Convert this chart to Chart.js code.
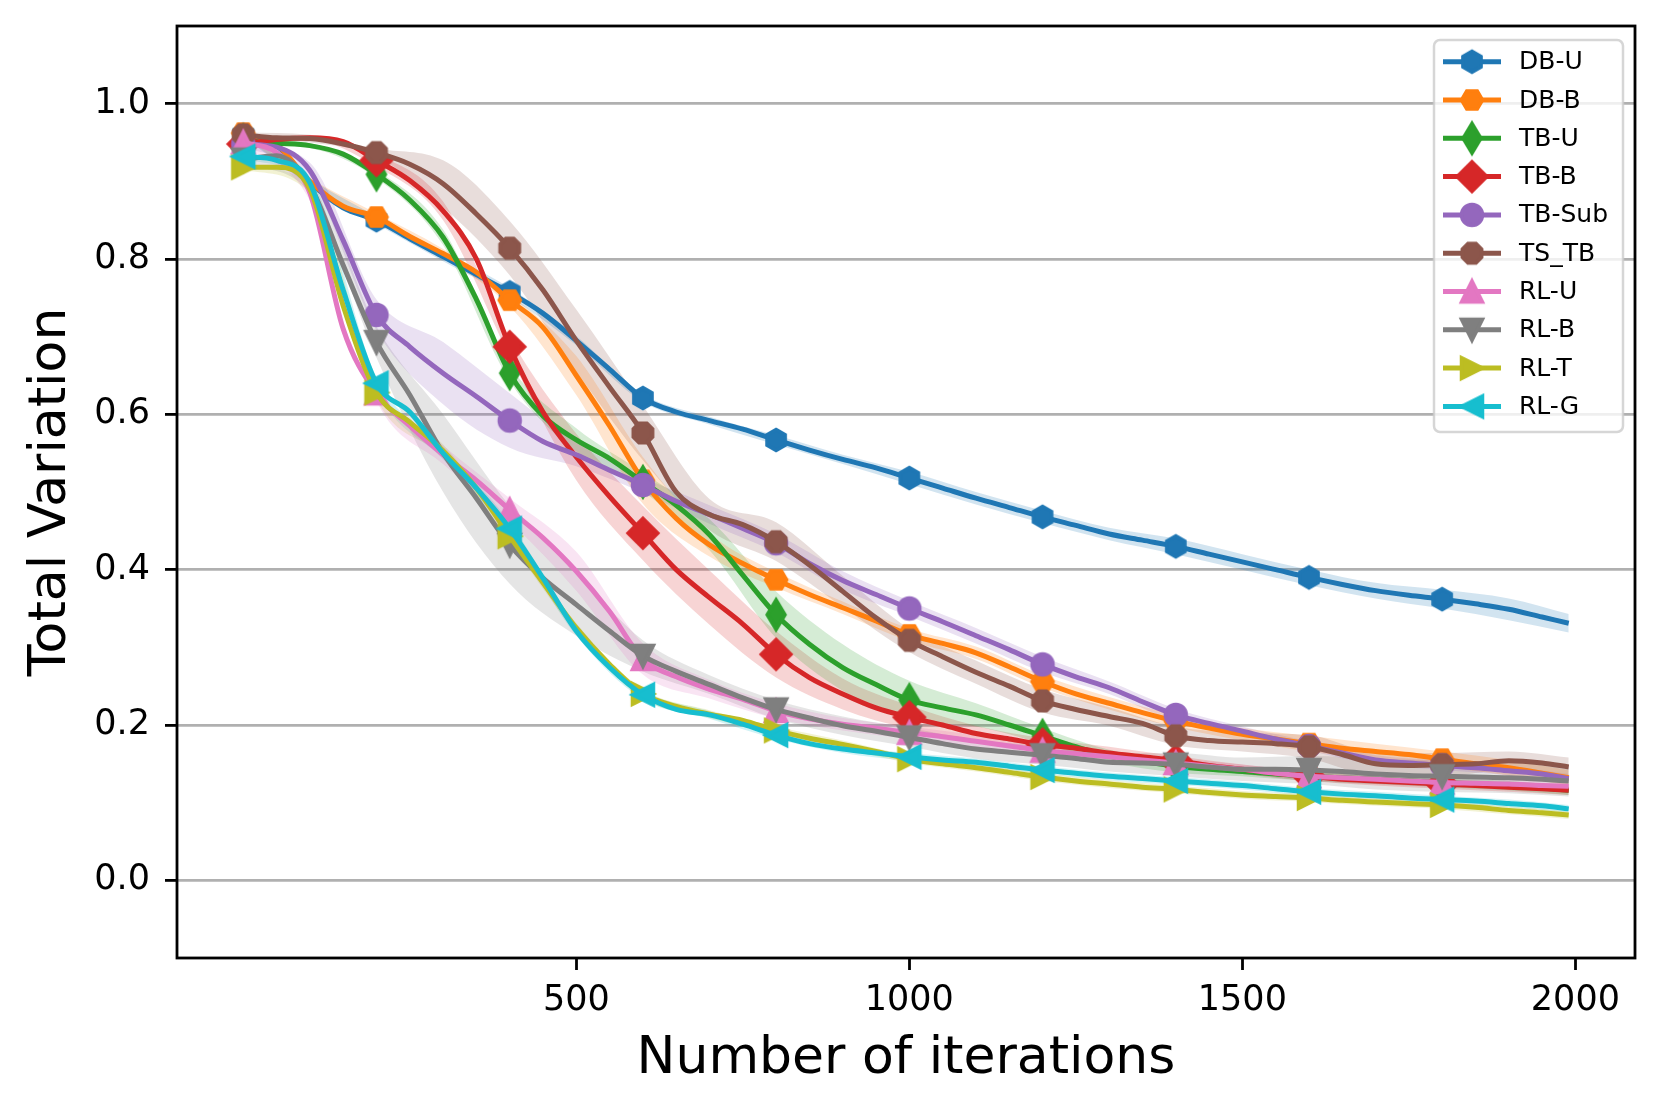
<!DOCTYPE html>
<html>
<head>
<meta charset="utf-8">
<title>Total Variation vs number of iterations</title>
<script src="https://cdn.jsdelivr.net/npm/chart.js@4.4.1/dist/chart.umd.min.js"></script>
<style>
  html, body { margin: 0; padding: 0; background: #fff; }
  #wrap { width: 1662px; height: 1113px; }
</style>
</head>
<body>
<div id="wrap"><canvas id="tvChart" width="1662" height="1113"></canvas></div>
<script>
// iteration grid of the curves
const iters = [0, 50, 100, 150, 200, 250, 300, 350, 400, 450,
  500, 550, 600, 650, 700, 750, 800, 850, 900, 950,
  1000, 1050, 1100, 1150, 1200, 1250, 1300, 1350, 1400, 1450,
  1500, 1550, 1600, 1650, 1700, 1750, 1800, 1850, 1900, 1950, 1990];

// coarser grid for the shaded spread
const bandIters = [0, 100, 200, 300, 400, 500, 600, 700, 800, 900, 1000,
  1100, 1200, 1300, 1400, 1500, 1600, 1700, 1800, 1900, 1990];

const xTicks = [500, 1000, 1500, 2000];
const yTicks = [0.0, 0.2, 0.4, 0.6, 0.8, 1.0];

const seriesNames = ["DB-U", "DB-B", "TB-U", "TB-B", "TB-Sub", "TS_TB", "RL-U", "RL-B", "RL-T", "RL-G"];

const dbU = [0.960, 0.946, 0.899, 0.866, 0.850, 0.826, 0.803, 0.780, 0.757, 0.730,
  0.695, 0.658, 0.621, 0.603, 0.592, 0.581, 0.567, 0.554, 0.542, 0.531,
  0.518, 0.505, 0.492, 0.480, 0.468, 0.457, 0.446, 0.438, 0.430, 0.420,
  0.410, 0.400, 0.390, 0.381, 0.373, 0.367, 0.362, 0.356, 0.349, 0.339, 0.331];
const dbB = [0.962, 0.947, 0.900, 0.868, 0.854, 0.829, 0.807, 0.783, 0.747, 0.712,
  0.650, 0.585, 0.515, 0.466, 0.432, 0.408, 0.387, 0.368, 0.351, 0.334,
  0.316, 0.305, 0.293, 0.275, 0.256, 0.240, 0.228, 0.216, 0.205, 0.196,
  0.188, 0.182, 0.176, 0.170, 0.166, 0.162, 0.156, 0.150, 0.145, 0.138, 0.132];
const tbU = [0.952, 0.949, 0.946, 0.935, 0.909, 0.876, 0.828, 0.748, 0.653, 0.598,
  0.567, 0.543, 0.513, 0.483, 0.445, 0.393, 0.342, 0.304, 0.274, 0.252,
  0.232, 0.222, 0.213, 0.200, 0.186, 0.172, 0.160, 0.153, 0.147, 0.143,
  0.140, 0.137, 0.134, 0.132, 0.130, 0.128, 0.126, 0.124, 0.122, 0.119, 0.116];
const tbB = [0.948, 0.954, 0.956, 0.951, 0.927, 0.901, 0.862, 0.800, 0.687, 0.603,
  0.545, 0.494, 0.447, 0.400, 0.364, 0.330, 0.291, 0.261, 0.240, 0.222,
  0.210, 0.200, 0.189, 0.182, 0.175, 0.170, 0.164, 0.159, 0.154, 0.148,
  0.143, 0.138, 0.134, 0.130, 0.128, 0.126, 0.124, 0.122, 0.120, 0.118, 0.116];
const tbSub = [0.948, 0.944, 0.914, 0.824, 0.728, 0.687, 0.653, 0.623, 0.592, 0.565,
  0.548, 0.528, 0.509, 0.488, 0.471, 0.453, 0.434, 0.408, 0.386, 0.368,
  0.350, 0.333, 0.315, 0.297, 0.278, 0.262, 0.248, 0.230, 0.213, 0.202,
  0.192, 0.182, 0.173, 0.164, 0.155, 0.151, 0.148, 0.145, 0.141, 0.137, 0.131];
const tsTb = [0.960, 0.956, 0.955, 0.948, 0.937, 0.922, 0.897, 0.858, 0.814, 0.760,
  0.695, 0.635, 0.576, 0.500, 0.471, 0.458, 0.436, 0.406, 0.372, 0.338,
  0.309, 0.288, 0.268, 0.250, 0.231, 0.220, 0.211, 0.202, 0.186, 0.180,
  0.178, 0.176, 0.172, 0.162, 0.150, 0.148, 0.149, 0.150, 0.154, 0.151, 0.146];
const rlU = [0.950, 0.937, 0.885, 0.710, 0.627, 0.585, 0.548, 0.515, 0.477, 0.441,
  0.398, 0.346, 0.285, 0.262, 0.246, 0.233, 0.218, 0.208, 0.201, 0.196,
  0.190, 0.185, 0.179, 0.173, 0.167, 0.163, 0.159, 0.155, 0.151, 0.147,
  0.143, 0.138, 0.134, 0.132, 0.130, 0.128, 0.126, 0.125, 0.124, 0.122, 0.121];
const rlB = [0.928, 0.933, 0.895, 0.792, 0.693, 0.625, 0.550, 0.492, 0.432, 0.389,
  0.355, 0.321, 0.289, 0.269, 0.252, 0.235, 0.220, 0.209, 0.199, 0.192,
  0.184, 0.176, 0.169, 0.165, 0.161, 0.157, 0.152, 0.151, 0.149, 0.146,
  0.143, 0.143, 0.142, 0.140, 0.137, 0.135, 0.134, 0.133, 0.132, 0.130, 0.128];
const rlT = [0.918, 0.918, 0.890, 0.740, 0.628, 0.590, 0.553, 0.505, 0.443, 0.383,
  0.325, 0.278, 0.240, 0.224, 0.214, 0.206, 0.193, 0.183, 0.175, 0.166,
  0.156, 0.150, 0.145, 0.139, 0.133, 0.128, 0.124, 0.120, 0.117, 0.113,
  0.110, 0.108, 0.106, 0.103, 0.101, 0.099, 0.097, 0.094, 0.090, 0.087, 0.084];
const rlG = [0.932, 0.927, 0.898, 0.760, 0.640, 0.603, 0.550, 0.505, 0.453, 0.389,
  0.321, 0.274, 0.239, 0.220, 0.213, 0.201, 0.187, 0.176, 0.169, 0.164,
  0.159, 0.155, 0.152, 0.147, 0.142, 0.138, 0.134, 0.131, 0.128, 0.125,
  0.122, 0.118, 0.114, 0.111, 0.109, 0.106, 0.104, 0.102, 0.099, 0.096, 0.092];

// half width of the shaded spread, on bandIters
const dbU_sd = [0.003, 0.004, 0.005, 0.006, 0.006, 0.006, 0.005, 0.005, 0.006, 0.006, 0.008,
  0.008, 0.008, 0.008, 0.010, 0.010, 0.010, 0.010, 0.012, 0.014, 0.012];
const dbB_sd = [0.003, 0.004, 0.005, 0.006, 0.008, 0.025, 0.030, 0.015, 0.010, 0.008, 0.008,
  0.008, 0.008, 0.008, 0.008, 0.008, 0.010, 0.010, 0.010, 0.010, 0.010];
const tbU_sd = [0.003, 0.003, 0.005, 0.010, 0.010, 0.015, 0.012, 0.020, 0.030, 0.030, 0.025,
  0.015, 0.010, 0.008, 0.008, 0.006, 0.006, 0.006, 0.006, 0.006, 0.006];
const tbB_sd = [0.003, 0.003, 0.008, 0.012, 0.012, 0.030, 0.035, 0.035, 0.030, 0.020, 0.015,
  0.010, 0.008, 0.008, 0.006, 0.006, 0.006, 0.006, 0.006, 0.006, 0.006];
const tbSub_sd = [0.003, 0.010, 0.020, 0.040, 0.035, 0.015, 0.010, 0.012, 0.012, 0.012, 0.010,
  0.010, 0.010, 0.008, 0.008, 0.006, 0.006, 0.006, 0.006, 0.006, 0.006];
const tsTb_sd = [0.003, 0.005, 0.005, 0.030, 0.035, 0.040, 0.035, 0.020, 0.025, 0.020, 0.015,
  0.015, 0.015, 0.012, 0.012, 0.012, 0.015, 0.015, 0.015, 0.012, 0.012];
const rlU_sd = [0.003, 0.010, 0.010, 0.012, 0.015, 0.025, 0.020, 0.012, 0.010, 0.008, 0.008,
  0.008, 0.008, 0.006, 0.006, 0.006, 0.006, 0.006, 0.006, 0.006, 0.006];
const rlB_sd = [0.005, 0.010, 0.020, 0.050, 0.050, 0.040, 0.020, 0.012, 0.012, 0.012, 0.012,
  0.012, 0.012, 0.012, 0.015, 0.015, 0.018, 0.020, 0.020, 0.020, 0.020];
const rlT_sd = [0.003, 0.005, 0.008, 0.008, 0.008, 0.006, 0.006, 0.005, 0.005, 0.005, 0.005,
  0.005, 0.005, 0.005, 0.005, 0.005, 0.005, 0.005, 0.005, 0.005, 0.005];
const rlG_sd = [0.003, 0.005, 0.008, 0.008, 0.008, 0.006, 0.006, 0.005, 0.005, 0.005, 0.005,
  0.005, 0.005, 0.005, 0.005, 0.005, 0.005, 0.005, 0.005, 0.005, 0.005];

const seriesValues = [dbU, dbB, tbU, tbB, tbSub, tsTb, rlU, rlB, rlT, rlG];
const seriesSd = [dbU_sd, dbB_sd, tbU_sd, tbB_sd, tbSub_sd, tsTb_sd, rlU_sd, rlB_sd, rlT_sd, rlG_sd];

const colors = ["#1f77b4", "#ff7f0e", "#2ca02c", "#d62728", "#9467bd",
  "#8c564b", "#e377c2", "#7f7f7f", "#bcbd22", "#17becf"];
const shapes = ["h", "H", "d", "D", "o", "8", "^", "v", ">", "<"];

Chart.defaults.font.family = "'DejaVu Sans', 'Liberation Sans', sans-serif";
Chart.defaults.color = "#000";

function alpha(hex, a) {
  const n = parseInt(hex.slice(1), 16);
  return "rgba(" + (n >> 16) + "," + ((n >> 8) & 255) + "," + (n & 255) + "," + a + ")";
}

function regular(n, r, startDeg) {
  const pts = [];
  for (let k = 0; k < n; k++) {
    const a = (startDeg + k * 360 / n) * Math.PI / 180;
    pts.push([r * Math.cos(a), r * Math.sin(a)]);
  }
  return pts;
}

// matplotlib-like markers drawn on small canvases
function makeMarker(shape, color) {
  const c = document.createElement("canvas");
  c.width = 48;
  c.height = 48;
  const g = c.getContext("2d");
  const r = 10.5;
  const rd = 14.85;
  g.translate(24, 24);
  g.beginPath();
  if (shape === "o") {
    g.arc(0, 0, r, 0, Math.PI * 2);
  } else {
    let pts;
    if (shape === "h") pts = regular(6, r, -90);
    else if (shape === "H") pts = regular(6, r, 0);
    else if (shape === "8") pts = regular(8, r, 22.5);
    else if (shape === "D") pts = [[0, -rd], [rd, 0], [0, rd], [-rd, 0]];
    else if (shape === "d") pts = [[0, -rd], [0.6 * rd, 0], [0, rd], [-0.6 * rd, 0]];
    else if (shape === "^") pts = [[0, -r], [r, r], [-r, r]];
    else if (shape === "v") pts = [[0, r], [r, -r], [-r, -r]];
    else if (shape === ">") pts = [[r, 0], [-r, r], [-r, -r]];
    else pts = [[-r, 0], [r, -r], [r, r]];
    g.moveTo(pts[0][0], pts[0][1]);
    pts.slice(1).forEach(p => g.lineTo(p[0], p[1]));
    g.closePath();
  }
  g.fillStyle = color;
  g.fill();
  g.lineWidth = 3.5;
  g.lineJoin = "miter";
  g.strokeStyle = color;
  g.stroke();
  return c;
}

const markers = shapes.map((s, i) => makeMarker(s, colors[i]));

// spread bands first, lines after
const datasets = [];
seriesNames.forEach((name, i) => {
  const vals = seriesValues[i];
  const sd = seriesSd[i];
  const mid = bandIters.map(x => vals[iters.indexOf(x)]);
  datasets.push({
    label: name + " lo",
    data: bandIters.map((x, k) => ({ x: x, y: mid[k] - sd[k] })),
    borderColor: "rgba(0,0,0,0)",
    borderWidth: 0,
    pointRadius: 0,
    fill: false,
    cubicInterpolationMode: "monotone",
    order: 50,
  });
  datasets.push({
    label: name + " hi",
    data: bandIters.map((x, k) => ({ x: x, y: mid[k] + sd[k] })),
    borderColor: "rgba(0,0,0,0)",
    borderWidth: 0,
    pointRadius: 0,
    fill: "-1",
    backgroundColor: alpha(colors[i], 0.2),
    cubicInterpolationMode: "monotone",
    order: 50,
  });
});
seriesNames.forEach((name, i) => {
  datasets.push({
    label: name,
    data: iters.map((x, k) => ({ x: x, y: seriesValues[i][k] })),
    borderColor: colors[i],
    backgroundColor: colors[i],
    borderWidth: 5,
    cubicInterpolationMode: "monotone",
    pointStyle: markers[i],
    pointRadius: ctx => (ctx.raw && ctx.raw.x % 200 === 0 ? 12 : 0),
    pointHoverRadius: 0,
    fill: false,
    order: 9 - i,
  });
});

const framePlugin = {
  id: "frame",
  afterDatasetsDraw(chart) {
    const { ctx, chartArea: a } = chart;
    ctx.save();
    ctx.strokeStyle = "#000";
    ctx.lineWidth = 2.8;
    ctx.strokeRect(a.left, a.top, a.right - a.left, a.bottom - a.top);
    ctx.restore();
  },
};

const legendPlugin = {
  id: "mplLegend",
  afterDraw(chart) {
    const ctx = chart.ctx;
    const left = 1434, top = 40, w = 189, h = 392, rowH = 38.3, firstY = 61.7;
    ctx.save();
    ctx.beginPath();
    ctx.roundRect(left, top, w, h, 6);
    ctx.fillStyle = "rgba(255,255,255,0.8)";
    ctx.fill();
    ctx.strokeStyle = "rgba(204,204,204,0.8)";
    ctx.lineWidth = 2.5;
    ctx.stroke();
    ctx.font = "25px 'DejaVu Sans'";
    ctx.textBaseline = "middle";
    ctx.fillStyle = "#000";
    seriesNames.forEach((name, i) => {
      const y = firstY + i * rowH;
      ctx.beginPath();
      ctx.moveTo(1443, y);
      ctx.lineTo(1501, y);
      ctx.strokeStyle = colors[i];
      ctx.lineWidth = 5;
      ctx.stroke();
      ctx.drawImage(markers[i], 1472 - 24, y - 24);
      ctx.fillText(name, 1519, y + 1);
    });
    ctx.restore();
  },
};

// keep the plot box fixed, no extra padding from tick labels
function noPad(s) {
  s.paddingTop = 0;
  s.paddingBottom = 0;
  s.paddingLeft = 0;
  s.paddingRight = 0;
}

new Chart(document.getElementById("tvChart"), {
  type: "line",
  data: { datasets: datasets },
  plugins: [framePlugin, legendPlugin],
  options: {
    responsive: false,
    animation: false,
    events: [],
    layout: { autoPadding: false, padding: { left: 0, top: 26, right: 27, bottom: 0 } },
    plugins: {
      legend: { display: false },
      tooltip: { enabled: false },
    },
    scales: {
      x: {
        type: "linear",
        min: -99.5,
        max: 2089.5,
        afterBuildTicks: s => { s.ticks = xTicks.map(v => ({ value: v })); },
        afterFit: s => { s.height = 155; noPad(s); },
        ticks: {
          font: { size: 35 },
          color: "#000",
          padding: 10,
          maxRotation: 0,
          callback: v => String(v),
        },
        grid: {
          drawOnChartArea: false,
          tickLength: 12,
          tickColor: "#000",
          tickWidth: 2.8,
        },
        border: { display: false },
        title: {
          display: true,
          text: "Number of iterations",
          font: { size: 52 },
          color: "#000",
          padding: { top: 0, bottom: 22 },
        },
      },
      y: {
        type: "linear",
        min: -0.1,
        max: 1.1,
        afterBuildTicks: s => { s.ticks = yTicks.map(v => ({ value: v })); },
        afterFit: s => { s.width = 177; noPad(s); },
        ticks: {
          font: { size: 35 },
          color: "#000",
          padding: 15,
          callback: v => v.toFixed(1),
        },
        grid: {
          color: "#b0b0b0",
          lineWidth: 2.8,
          tickLength: 12,
          tickColor: "#000",
          tickWidth: 2.8,
        },
        border: { display: false },
        title: {
          display: true,
          text: "Total Variation",
          font: { size: 52 },
          color: "#000",
          padding: { top: 20, bottom: 0 },
        },
      },
    },
  },
});
</script>
</body>
</html>
